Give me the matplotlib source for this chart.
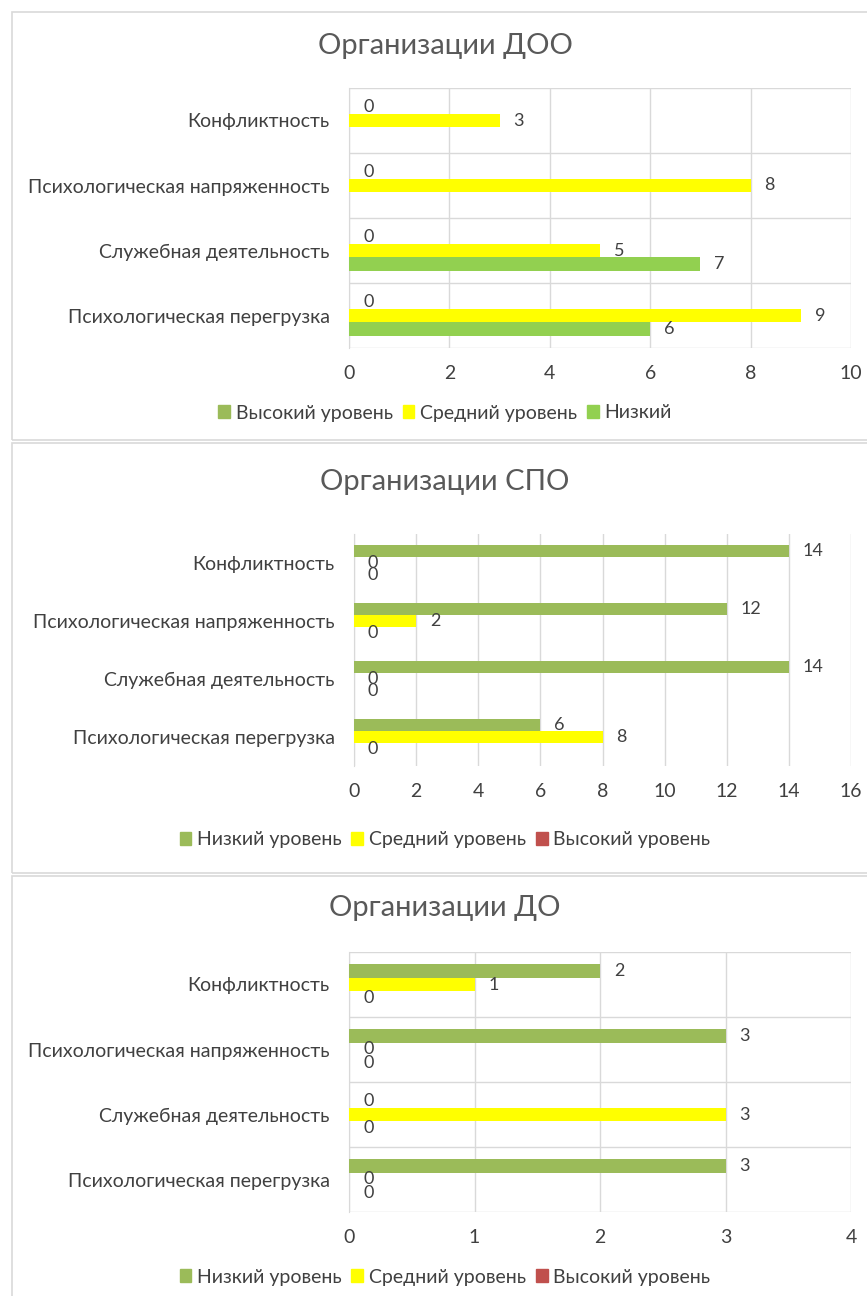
import numpy as np
import matplotlib
matplotlib.use("Agg")
import matplotlib.pyplot as plt
from matplotlib.patches import Rectangle, Patch

plt.rcParams['font.family'] = ['Lato', 'DejaVu Sans']

categories = ['Конфликтность', 'Психологическая напряженность',
              'Служебная деятельность', 'Психологическая перегрузка']

# ДОО (top to bottom inside each group: high, mid, low)
doo_high = [0, 0, 0, 0]
doo_mid = [3, 8, 5, 9]
doo_low = [None, None, 7, 6]

# СПО (top to bottom: low, mid, high)
spo_low = [14, 12, 14, 6]
spo_mid = [0, 2, 0, 8]
spo_high = [0, 0, 0, 0]

# ДО
do_low = [2, 3, 0, 3]
do_mid = [1, 0, 3, 0]
do_high = [0, 0, 0, 0]

OLIVE = '#9BBB59'
YELLOW = '#FFFF00'
LIME = '#92D050'
RED = '#C0504D'
GRID = '#D9D9D9'
TXT = '#404040'

W, H = 867, 1296


def rect(left, top, right, bottom):
    return [left / W, 1 - bottom / H, (right - left) / W, (bottom - top) / H]


fig = plt.figure(figsize=(W / 100, H / 100), dpi=100)

# panel frames
for top, bottom in [(12, 440), (443, 873), (876, 1302)]:
    fig.patches.append(Rectangle((12 / W, 1 - bottom / H), 2, (bottom - top) / H,
                                 transform=fig.transFigure, fill=False,
                                 edgecolor=GRID, lw=1.2))

panels = [
    dict(title='Организации ДОО', box=(349, 88, 851, 348), title_y=46,
         legend_y=413, legend_x=445, xmax=10, step=2, hlines=True,
         series=[(doo_high, OLIVE, 'Высокий уровень'),
                 (doo_mid, YELLOW, 'Средний уровень'),
                 (doo_low, LIME, 'Низкий')]),
    dict(title='Организации СПО', box=(354, 534, 851, 766), title_y=482,
         legend_y=840, legend_x=445, xmax=16, step=2, hlines=False,
         series=[(spo_low, OLIVE, 'Низкий уровень'),
                 (spo_mid, YELLOW, 'Средний уровень'),
                 (spo_high, RED, 'Высокий уровень')]),
    dict(title='Организации ДО', box=(349, 952, 851, 1212), title_y=908,
         legend_y=1277, legend_x=445, xmax=4, step=1, hlines=True,
         series=[(do_low, OLIVE, 'Низкий уровень'),
                 (do_mid, YELLOW, 'Средний уровень'),
                 (do_high, RED, 'Высокий уровень')]),
]

h = 0.21
ypos = np.arange(len(categories))

for p in panels:
    ax = fig.add_axes(rect(*p['box']))
    handles = []
    for i, (vals, col, name) in enumerate(p['series']):
        off = (i - 1) * h
        for y, v in zip(ypos, vals):
            if v is None:
                continue
            ax.barh(y + off, v, height=h, color=col, zorder=3)
            ax.annotate(str(v), (v, y + off), xytext=(14, 0),
                        textcoords='offset pixels', va='center', ha='left',
                        fontsize=13, color=TXT)
        handles.append(Patch(color=col, label=name))

    ax.set_xlim(0, p['xmax'])
    ax.set_ylim(len(categories) - 0.5, -0.5)
    ax.set_xticks(np.arange(0, p['xmax'] + 0.1, p['step']))
    ax.set_yticks(ypos)
    ax.set_yticklabels(categories)
    ax.tick_params(length=0, labelsize=14, labelcolor=TXT)
    ax.tick_params(axis='x', pad=12)
    ax.tick_params(axis='y', pad=14)
    ax.grid(axis='x', color=GRID, lw=1, zorder=0)
    for s in ['top', 'right', 'bottom']:
        ax.spines[s].set_visible(False)
    ax.spines['left'].set_color(GRID)
    if p['hlines']:
        ax.set_yticks(np.arange(-0.5, len(categories)), minor=True)
        ax.tick_params(which='minor', length=0)
        ax.grid(axis='y', which='minor', color=GRID, lw=1, zorder=0)
    fig.text(445 / W, 1 - p['title_y'] / H, p['title'],
             ha='center', va='center', fontsize=21, color='#595959')
    fig.legend(handles=handles, loc='center',
               bbox_to_anchor=(p['legend_x'] / W, 1 - p['legend_y'] / H),
               ncol=3, frameon=False, fontsize=14, labelcolor=TXT,
               handlelength=0.6, handleheight=0.6, handletextpad=0.3,
               columnspacing=0.5)

fig.savefig('out.png', dpi=100)
